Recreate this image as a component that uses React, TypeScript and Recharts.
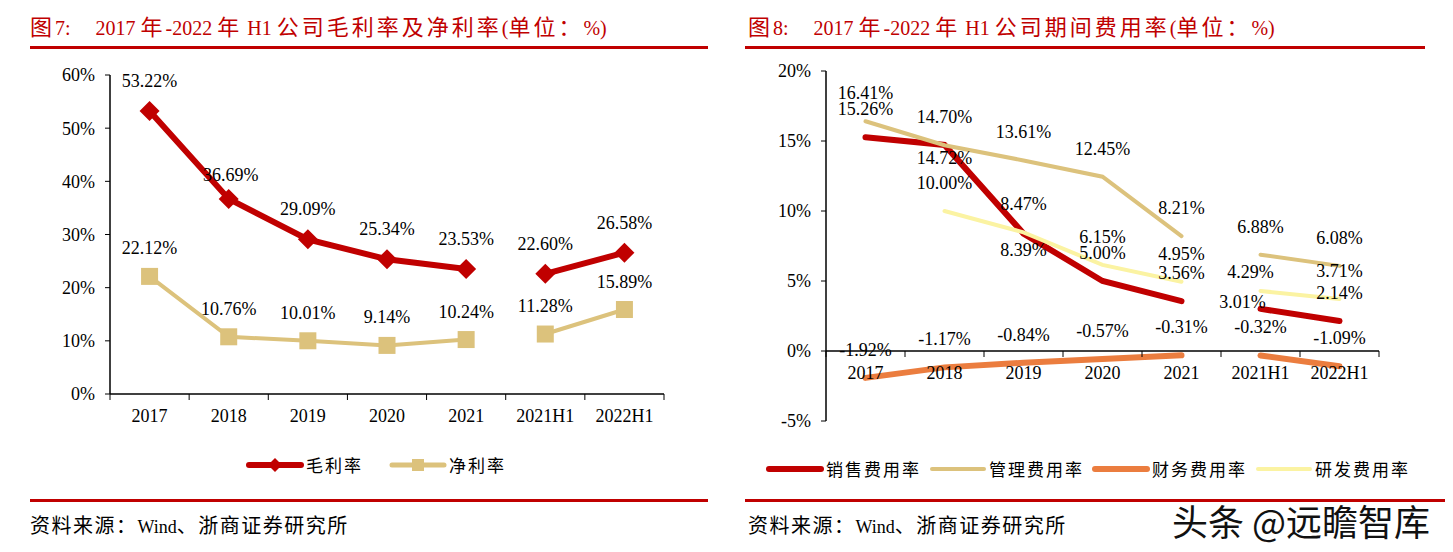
import React from "react";
import { LineChart, Line, XAxis, YAxis, LabelList, ReferenceLine } from "recharts";

const years = ["2017", "2018", "2019", "2020", "2021", "2021H1", "2022H1"];
// first five points are full years, the last two are half years (line breaks between them)
const fullYearCount = 5;

const grossMargin = [53.22, 36.69, 29.09, 25.34, 23.53, 22.6, 26.58];
const netMargin = [22.12, 10.76, 10.01, 9.14, 10.24, 11.28, 15.89];

const salesRate = [15.26, 14.72, 8.39, 5.0, 3.56, 3.01, 2.14];
const adminRate = [16.41, 14.7, 13.61, 12.45, 8.21, 6.88, 6.08];
const financeRate = [-1.92, -1.17, -0.84, -0.57, -0.31, -0.32, -1.09];
const rdRate: (number | null)[] = [null, 10.0, 8.47, 6.15, 4.95, 4.29, 3.71];

const leftTicks = [0, 10, 20, 30, 40, 50, 60];
const rightTicks = [-5, 0, 5, 10, 15, 20];

const SERIF = '"Liberation Serif", "Noto Sans CJK SC", serif';
const RED = "#c00000";
const TAN = "#dcc27c";
const ORANGE = "#eb7d3f";
const YELLOW = "#fbf3a2";

function buildRows(series: Record<string, (number | null)[]>) {
  return years.map((cat, i) => {
    const row: Record<string, any> = { cat };
    Object.entries(series).forEach(([key, vals]) => {
      row[key + "A"] = i < fullYearCount ? vals[i] : null;
      row[key + "H"] = i >= fullYearCount ? vals[i] : null;
    });
    return row;
  });
}

const leftRows = buildRows({ gross: grossMargin, net: netMargin });
const rightRows = buildRows({ sales: salesRate, admin: adminRate, finance: financeRate, rd: rdRate });

// CJK runs a bit larger and looser than the latin text, as in the source document
const CJK = /[\u3000-\u303f\u4e00-\u9fff\uff00-\uffef]/;
function mixed(text: string, cjkSize: number, spacing: number) {
  return text.split(/([\u3000-\u303f\u4e00-\u9fff\uff00-\uffef]+)/).map((part, i) =>
    CJK.test(part)
      ? <span key={i} style={{ fontSize: cjkSize, letterSpacing: spacing }}>{part}</span>
      : <span key={i}>{part}</span>
  );
}

const makeLabel = (offsets: Record<number, [number, number]> = {}, def: [number, number] = [0, -28]) =>
  (props: any) => {
    const { x, y, value, index } = props;
    if (value == null || x == null || y == null) return null;
    const [dx, dy] = offsets[index] ?? def;
    return (
      <text x={x + dx} y={y + dy} textAnchor="middle" dominantBaseline="central"
        fontSize={18} fontFamily={SERIF} fill="#000">
        {Number(value).toFixed(2)}%
      </text>
    );
  };

const diamondDot = (p: any) => {
  if (p.value == null || p.cy == null) return <g key={p.index} />;
  const r = 10;
  return (
    <polygon key={p.index} fill={RED}
      points={`${p.cx},${p.cy - r} ${p.cx + r},${p.cy} ${p.cx},${p.cy + r} ${p.cx - r},${p.cy}`} />
  );
};

const squareDot = (p: any) => {
  if (p.value == null || p.cy == null) return <g key={p.index} />;
  const s = 17;
  return <rect key={p.index} x={p.cx - s / 2} y={p.cy - s / 2} width={s} height={s} fill={TAN} />;
};

// category tick with tick marks between categories, like the source chart
const bandTick = (band: number, lift: number) => (props: any) => {
  const { x, y, payload, index } = props;
  const y0 = y - lift;
  return (
    <g>
      <line x1={x - band / 2} x2={x - band / 2} y1={y0} y2={y0 + 6} stroke="#000" />
      {index === years.length - 1 && (
        <line x1={x + band / 2} x2={x + band / 2} y1={y0} y2={y0 + 6} stroke="#000" />
      )}
      <text x={x} y={y0 + 22} textAnchor="middle" dominantBaseline="central"
        fontSize={18} fontFamily={SERIF} fill="#000">
        {payload.value}
      </text>
    </g>
  );
};

const pct = (v: number) => `${v}%`;

function LegendItem({ color, name, width, marker, gap }: { color: string; name: string; width: number; marker?: "diamond" | "square"; gap: number }) {
  return (
    <div style={{ display: "flex", alignItems: "center", marginRight: gap, flexShrink: 0, whiteSpace: "nowrap" }}>
      <svg width={58} height={20}>
        <line x1={3} x2={55} y1={10} y2={10} stroke={color} strokeWidth={width} strokeLinecap="round" />
        {marker === "diamond" && <polygon points="29,3 36,10 29,17 22,10" fill={color} />}
        {marker === "square" && <rect x={23} y={4} width={12} height={12} fill={color} />}
      </svg>
      <span style={{ fontSize: 17, fontFamily: SERIF, letterSpacing: 2, marginLeft: 2 }}>{name}</span>
    </div>
  );
}

const titleStyle: React.CSSProperties = {
  position: "absolute", top: 9, fontSize: 20, color: RED, fontFamily: SERIF, whiteSpace: "pre",
};
const rule = (left: number, top: number, width: number): React.CSSProperties => ({
  position: "absolute", left, top, width, height: 3, background: RED,
});
const sourceStyle: React.CSSProperties = {
  position: "absolute", top: 510, fontSize: 18, color: "#000", fontFamily: SERIF, whiteSpace: "pre",
};

function LeftChart() {
  const band = (664 - 110) / years.length;
  return (
    <LineChart width={720} height={440} data={leftRows} margin={{ top: 75, right: 56, bottom: 16, left: 60 }}>
      <XAxis dataKey="cat" scale="band" interval={0} height={30} tickSize={0} tickMargin={0}
        axisLine={{ stroke: "#000", strokeWidth: 1.5 }} tickLine={false} tick={bandTick(band, 0)} />
      <YAxis domain={[0, 60]} ticks={leftTicks} tickFormatter={pct} width={50} tickSize={5} tickMargin={10}
        axisLine={{ stroke: "#000", strokeWidth: 1.5 }} tickLine={{ stroke: "#000" }}
        tick={{ fill: "#000", fontSize: 18, fontFamily: SERIF }} />
      {(["grossA", "grossH"] as const).map((k) => (
        <Line key={k} dataKey={k} stroke={RED} strokeWidth={6} dot={diamondDot} isAnimationActive={false}>
          <LabelList dataKey={k} content={makeLabel({ 1: [2, -24] }, [0, -30])} />
        </Line>
      ))}
      {(["netA", "netH"] as const).map((k) => (
        <Line key={k} dataKey={k} stroke={TAN} strokeWidth={4} dot={squareDot} isAnimationActive={false}>
          <LabelList dataKey={k} content={makeLabel({}, [0, -28])} />
        </Line>
      ))}
    </LineChart>
  );
}

const rightSeries = [
  { key: "sales", name: "销售费用率", color: RED, width: 6, offsets: { 1: [0, 13], 2: [0, 16], 5: [-18, -7] } as Record<number, [number, number]> },
  { key: "admin", name: "管理费用率", color: TAN, width: 4, offsets: {} as Record<number, [number, number]> },
  { key: "finance", name: "财务费用率", color: ORANGE, width: 6, offsets: {} as Record<number, [number, number]> },
  { key: "rd", name: "研发费用率", color: YELLOW, width: 4, offsets: { 5: [-10, -19] } as Record<number, [number, number]> },
];

function RightChart() {
  const band = (1379 - 826) / years.length;
  const plotH = 421 - 71;
  const lift = plotH * (5 / 25);
  return (
    <LineChart width={723} height={450} data={rightRows} margin={{ top: 71, right: 74, bottom: 9, left: 46 }}>
      <XAxis dataKey="cat" scale="band" interval={0} height={20} tickSize={0} tickMargin={0}
        axisLine={false} tickLine={false} tick={bandTick(band, lift)} />
      <YAxis domain={[-5, 20]} ticks={rightTicks} tickFormatter={pct} width={50} tickSize={5} tickMargin={10}
        axisLine={{ stroke: "#000", strokeWidth: 1.5 }} tickLine={{ stroke: "#000" }}
        tick={{ fill: "#000", fontSize: 18, fontFamily: SERIF }} />
      <ReferenceLine y={0} stroke="#000" strokeWidth={1.5} />
      {rightSeries.flatMap((s) =>
        ["A", "H"].map((part) => (
          <Line key={s.key + part} dataKey={s.key + part} stroke={s.color} strokeWidth={s.width}
            strokeLinecap="round" dot={false} activeDot={false} isAnimationActive={false}>
            <LabelList dataKey={s.key + part} content={makeLabel(s.offsets, [0, -28])} />
          </Line>
        ))
      )}
    </LineChart>
  );
}

export default function App() {
  return (
    <div style={{ position: "absolute", left: 0, top: 0, width: 1453, height: 552, background: "#fff", overflow: "hidden" }}>
      <div style={{ ...titleStyle, left: 30 }}>{mixed("图7:     2017 年-2022 年 H1 公司毛利率及净利率(单位：%)", 22, 3)}</div>
      <div style={rule(30, 46, 678)} />
      <div style={{ ...titleStyle, left: 748 }}>{mixed("图8:     2017 年-2022 年 H1 公司期间费用率(单位：%)", 22, 3)}</div>
      <div style={rule(745, 46, 680)} />

      <div style={{ position: "absolute", left: 0, top: 0 }}>
        <LeftChart />
      </div>
      <div style={{ position: "absolute", left: 730, top: 0 }}>
        <RightChart />
      </div>

      <div style={{ position: "absolute", left: 246, top: 452, display: "flex" }}>
        <LegendItem color={RED} name="毛利率" width={6} marker="diamond" gap={26} />
        <LegendItem color={TAN} name="净利率" width={5} marker="square" gap={26} />
      </div>
      <div style={{ position: "absolute", left: 766, top: 456, display: "flex", width: 700 }}>
        {rightSeries.map((s) => (
          <LegendItem key={s.key} color={s.color} name={s.name} width={s.width} gap={8} />
        ))}
      </div>

      <div style={rule(30, 499, 678)} />
      <div style={rule(745, 499, 700)} />
      <div style={{ ...sourceStyle, left: 30 }}>{mixed("资料来源：Wind、浙商证券研究所", 20, 1.5)}</div>
      <div style={{ ...sourceStyle, left: 748 }}>{mixed("资料来源：Wind、浙商证券研究所", 20, 1.5)}</div>

      <div style={{
        position: "absolute", left: 1172, top: 494, fontSize: 36, fontFamily: '"Noto Sans CJK SC", sans-serif',
        color: "#111", whiteSpace: "pre",
        textShadow: "1px 1px 0 #fff, -1px -1px 0 #fff, 1px -1px 0 #fff, -1px 1px 0 #fff, 2px 2px 2px #fff",
      }}>
        头条 @远瞻智库
      </div>
    </div>
  );
}
